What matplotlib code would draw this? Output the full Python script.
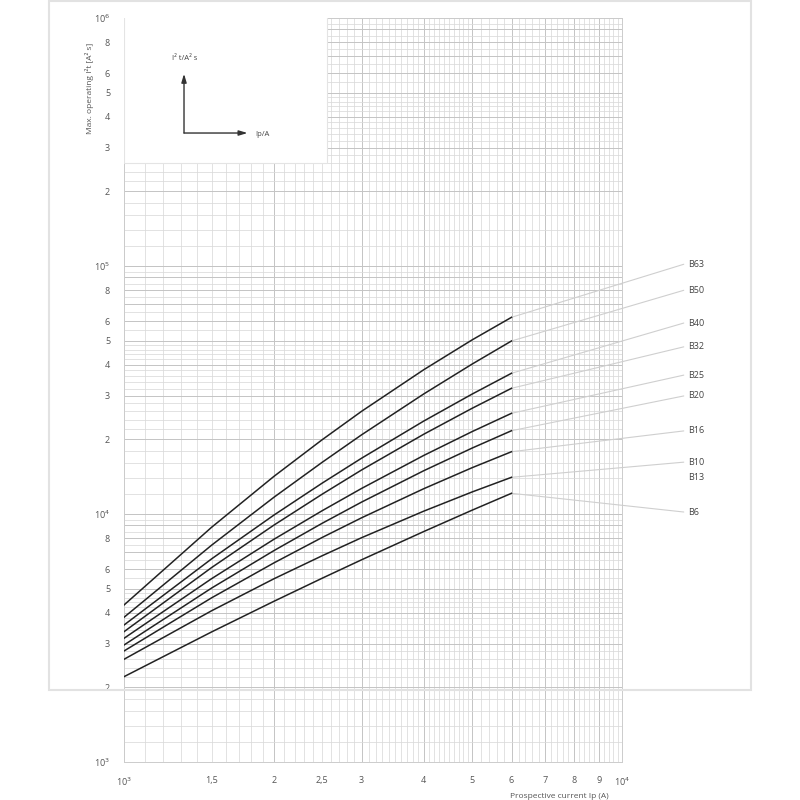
import numpy as np
import matplotlib.pyplot as plt
from matplotlib.patches import Rectangle

plt.rcParams['font.family'] = ['Open Sans', 'DejaVu Sans']

# Prospective current (A) and max. operating I2t (A2s) per curve
current = [1000, 1500, 2000, 2500, 3000, 4000, 5000, 6000]
curve_names = ["B6", "B10", "B16", "B20", "B25", "B32", "B40", "B50", "B63"]
i2t_B6 = [2208, 3347, 4446, 5509, 6537, 8500, 10360, 12120]
i2t_B10 = [2595, 4074, 5480, 6787, 8025, 10270, 12270, 14060]
i2t_B16 = [2803, 4594, 6350, 8042, 9654, 12650, 15370, 17830]
i2t_B20 = [2963, 5030, 7118, 9174, 11170, 14950, 18440, 21670]
i2t_B25 = [3153, 5489, 7907, 10310, 12680, 17230, 21490, 25470]
i2t_B32 = [3353, 6085, 9020, 12020, 15050, 20980, 26680, 32130]
i2t_B40 = [3567, 6597, 9899, 13320, 16790, 23710, 30440, 36940]
i2t_B50 = [3832, 7491, 11680, 16160, 20860, 30500, 40220, 49860]
i2t_B63 = [4296, 8847, 14180, 19930, 25950, 38190, 50350, 62100]
curves = [i2t_B6, i2t_B10, i2t_B16, i2t_B20, i2t_B25, i2t_B32, i2t_B40, i2t_B50, i2t_B63]

x_ticks = [1000, 1500, 2000, 2500, 3000, 4000, 5000, 6000, 7000, 8000, 9000, 10000]
x_labels = ["10$^3$", "1,5", "2", "2,5", "3", "4", "5", "6", "7", "8", "9", "10$^4$"]
y_ticks = [1e3, 2e3, 3e3, 4e3, 5e3, 6e3, 8e3,
           1e4, 2e4, 3e4, 4e4, 5e4, 6e4, 8e4,
           1e5, 2e5, 3e5, 4e5, 5e5, 6e5, 8e5, 1e6]
y_labels = ["10$^3$", "2", "3", "4", "5", "6", "8",
            "10$^4$", "2", "3", "4", "5", "6", "8",
            "10$^5$", "2", "3", "4", "5", "6", "8", "10$^6$"]

# label text: name, y position (axes fraction)
label_names = ["B63", "B50", "B40", "B32", "B25", "B20", "B16", "B10", "B13", "B6"]
label_y = [0.669, 0.634, 0.590, 0.558, 0.520, 0.492, 0.445, 0.403, 0.383, 0.336]
# which curve each label's leader points to (None = no leader)
label_curve = ["B63", "B50", "B40", "B32", "B25", "B20", "B16", "B10", None, "B6"]

fig = plt.figure(figsize=(8, 8), dpi=100)
ax = fig.add_axes([124 / 800, 38 / 800, 498 / 800, 744 / 800])
ax.set_xscale("log")
ax.set_yscale("log")
ax.set_xlim(1000, 10000)
ax.set_ylim(1000, 1e6)

# outer light frame
fig.patches.append(Rectangle((49 / 800, 110 / 800), 702 / 800, 689 / 800,
                             transform=fig.transFigure, fill=False,
                             edgecolor="#e2e2e2", linewidth=1.5, zorder=0))

# graph paper grid
xg = np.concatenate([np.arange(1.0, 5.0, 0.1), np.arange(5.0, 10.01, 0.2)])
for v in xg:
    is_int = abs(v - round(v)) < 1e-6
    ax.axvline(v * 1000, color="#c4c4c4" if is_int else "#dadada",
               lw=0.7 if is_int else 0.55, zorder=1)
yg = np.concatenate([np.arange(1.0, 5.0, 0.2), np.arange(5.0, 10.01, 0.5)])
for d in [1e3, 1e4, 1e5]:
    for v in yg:
        is_int = abs(v - round(v)) < 1e-6
        ax.axhline(v * d, color="#c4c4c4" if is_int else "#dadada",
                   lw=0.7 if is_int else 0.55, zorder=1)

for name, vals in zip(curve_names, curves):
    ax.plot(current, vals, color="#222222", lw=1.1, zorder=3,
            solid_joinstyle="round")

# leader lines and labels
ends = {n: v[-1] for n, v in zip(curve_names, curves)}
for name, ly, cname in zip(label_names, label_y, label_curve):
    if cname is not None:
        ax.annotate("", xy=(current[-1], ends[cname]), xycoords="data",
                    xytext=(1.124, ly), textcoords="axes fraction",
                    arrowprops=dict(arrowstyle="-", color="#cfcfcf", lw=0.8,
                                    shrinkA=0, shrinkB=0),
                    annotation_clip=False, zorder=2)
    ax.text(1.133, ly, name, transform=ax.transAxes, fontsize=6.5,
            color="#444444", va="center", ha="left")

# white inset box with axis symbol
ax.add_patch(Rectangle((0, 0.8047), 0.407, 0.2, transform=ax.transAxes,
                       facecolor="white", edgecolor="#e4e4e4", lw=0.8, zorder=4))
ax.annotate("", xy=(0.1205, 0.925), xytext=(0.1205, 0.8454),
            xycoords="axes fraction",
            arrowprops=dict(arrowstyle="-|>,head_length=0.5,head_width=0.15",
                            color="#333333", lw=1.0, shrinkA=0, shrinkB=0),
            zorder=5)
ax.annotate("", xy=(0.248, 0.8454), xytext=(0.1205, 0.8454),
            xycoords="axes fraction",
            arrowprops=dict(arrowstyle="-|>,head_length=0.5,head_width=0.15",
                            color="#333333", lw=1.0, shrinkA=0, shrinkB=0),
            zorder=5)
ax.text(0.121, 0.945, "I² t/A² s", transform=ax.transAxes, fontsize=5.5,
        color="#444444", ha="center", va="center", zorder=6)
ax.text(0.263, 0.843, "Ip/A", transform=ax.transAxes, fontsize=5.5,
        color="#444444", ha="left", va="center", zorder=6)

ax.set_xticks(x_ticks)
ax.set_xticklabels(x_labels)
ax.set_yticks(y_ticks)
ax.set_yticklabels(y_labels)
ax.minorticks_off()
ax.tick_params(length=0, labelsize=6.5, labelcolor="#555555")
ax.tick_params(axis="x", pad=10)
ax.tick_params(axis="y", pad=10)
for s in ax.spines.values():
    s.set_color("#cccccc")
    s.set_linewidth(0.7)

ax.set_ylabel("Max. operating I²t [A² s]", fontsize=6, color="#555555")
ax.yaxis.set_label_coords(-0.06, 0.905)
ax.set_xlabel("Prospective current Ip (A)", fontsize=6, color="#555555")
ax.xaxis.set_label_coords(0.874, -0.042)

plt.savefig("out.png", dpi=100)
plt.close()
